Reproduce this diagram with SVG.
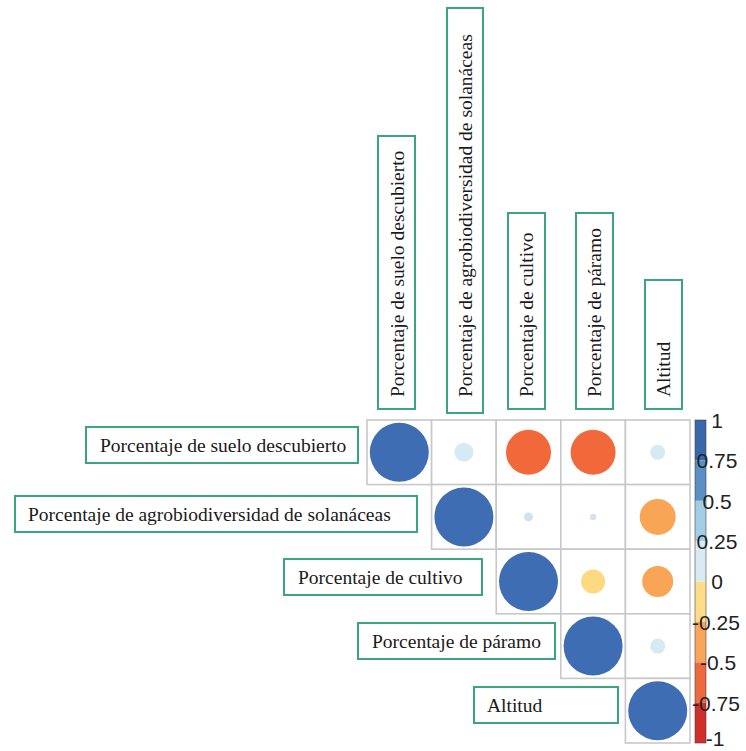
<svg xmlns="http://www.w3.org/2000/svg" width="746" height="751" viewBox="0 0 746 751">
  <style>
    .box { fill: #ffffff; stroke: #3aa57e; stroke-width: 2; }
    .lbl { font-family: "Liberation Serif", "Times New Roman", serif; font-size: 19.5px; fill: #1a1a1a; }
    .cell { fill: #ffffff; stroke: #c8c8c8; stroke-width: 1.6; }
    .tick { font-family: "Liberation Sans", Arial, sans-serif; font-size: 21px; fill: #222222; text-anchor: middle; }
    .pos1 { fill: #3e6db4; }
    .neg { fill: #f1693b; }
    .negm { fill: #f8a556; }
    .negs { fill: #fdda80; }
    .posl { fill: #d5eaf3; }
  </style>

  <!-- column header boxes (rotated labels) -->
  <g id="col-suelo">
    <rect class="box" x="378" y="136" width="37" height="273"/>
    <text class="lbl" transform="translate(404,397) rotate(-90)">Porcentaje de suelo descubierto</text>
  </g>
  <g id="col-agrobiodiversidad">
    <rect class="box" x="447" y="8" width="36" height="405"/>
    <text class="lbl" transform="translate(472,397) rotate(-90)">Porcentaje de agrobiodiversidad de solanáceas</text>
  </g>
  <g id="col-cultivo">
    <rect class="box" x="508" y="213" width="37" height="196"/>
    <text class="lbl" transform="translate(533,397) rotate(-90)">Porcentaje de cultivo</text>
  </g>
  <g id="col-paramo">
    <rect class="box" x="576" y="213" width="37" height="196"/>
    <text class="lbl" transform="translate(601,397) rotate(-90)">Porcentaje de páramo</text>
  </g>
  <g id="col-altitud">
    <rect class="box" x="645" y="280" width="37" height="129"/>
    <text class="lbl" transform="translate(670,397) rotate(-90)">Altitud</text>
  </g>

  <!-- row header boxes -->
  <g id="row-suelo">
    <rect class="box" x="86" y="427" width="272" height="36"/>
    <text class="lbl" x="100" y="452">Porcentaje de suelo descubierto</text>
  </g>
  <g id="row-agrobiodiversidad">
    <rect class="box" x="15" y="496" width="402" height="36"/>
    <text class="lbl" x="28" y="521">Porcentaje de agrobiodiversidad de solanáceas</text>
  </g>
  <g id="row-cultivo">
    <rect class="box" x="284" y="559" width="198" height="36"/>
    <text class="lbl" x="298" y="584">Porcentaje de cultivo</text>
  </g>
  <g id="row-paramo">
    <rect class="box" x="358" y="623" width="197" height="36"/>
    <text class="lbl" x="372" y="648">Porcentaje de páramo</text>
  </g>
  <g id="row-altitud">
    <rect class="box" x="474" y="687" width="144" height="36"/>
    <text class="lbl" x="487" y="712">Altitud</text>
  </g>

  <!-- upper-triangle grid cells -->
  <g id="grid">
    <rect class="cell" x="367" y="420" width="64.6" height="64.6"/>
    <rect class="cell" x="431.6" y="420" width="64.6" height="64.6"/>
    <rect class="cell" x="496.2" y="420" width="64.6" height="64.6"/>
    <rect class="cell" x="560.8" y="420" width="64.6" height="64.6"/>
    <rect class="cell" x="625.4" y="420" width="64.6" height="64.6"/>

    <rect class="cell" x="431.6" y="484.6" width="64.6" height="64.6"/>
    <rect class="cell" x="496.2" y="484.6" width="64.6" height="64.6"/>
    <rect class="cell" x="560.8" y="484.6" width="64.6" height="64.6"/>
    <rect class="cell" x="625.4" y="484.6" width="64.6" height="64.6"/>

    <rect class="cell" x="496.2" y="549.2" width="64.6" height="64.6"/>
    <rect class="cell" x="560.8" y="549.2" width="64.6" height="64.6"/>
    <rect class="cell" x="625.4" y="549.2" width="64.6" height="64.6"/>

    <rect class="cell" x="560.8" y="613.8" width="64.6" height="64.6"/>
    <rect class="cell" x="625.4" y="613.8" width="64.6" height="64.6"/>

    <rect class="cell" x="625.4" y="678.4" width="64.6" height="64.6"/>
  </g>

  <!-- correlation circles -->
  <g id="circles">
    <circle class="pos1" cx="399.3" cy="452.3" r="29.5"/>
    <circle class="posl" cx="463.9" cy="452.3" r="9.5"/>
    <circle class="neg" cx="528.5" cy="452.3" r="22.5"/>
    <circle class="neg" cx="593.1" cy="452.3" r="22.5"/>
    <circle class="posl" cx="657.7" cy="452.3" r="7.5"/>

    <circle class="pos1" cx="463.9" cy="516.9" r="29.5"/>
    <circle fill="#cfe3ea" cx="528.5" cy="516.9" r="4.5"/>
    <circle fill="#d6e1ef" cx="593.1" cy="516.9" r="3.2"/>
    <circle class="negm" cx="657.7" cy="516.9" r="18"/>

    <circle class="pos1" cx="528.5" cy="581.5" r="29.5"/>
    <circle class="negs" cx="593.1" cy="581.5" r="12"/>
    <circle class="negm" cx="657.7" cy="581.5" r="15.5"/>

    <circle class="pos1" cx="593.1" cy="646.1" r="29.5"/>
    <circle class="posl" cx="657.7" cy="646.1" r="7.5"/>

    <circle class="pos1" cx="657.7" cy="710.7" r="29.5"/>
  </g>

  <!-- colour legend -->
  <g id="colorbar">
    <rect x="695" y="420" width="11" height="40.4" fill="#3a66aa"/>
    <rect x="695" y="460.4" width="11" height="40.4" fill="#5b8fc5"/>
    <rect x="695" y="500.8" width="11" height="40.4" fill="#a3cde5"/>
    <rect x="695" y="541.2" width="11" height="40.4" fill="#d8ebf3"/>
    <rect x="695" y="581.6" width="11" height="40.4" fill="#fddd88"/>
    <rect x="695" y="622" width="11" height="40.4" fill="#f9a65a"/>
    <rect x="695" y="662.4" width="11" height="40.4" fill="#ee6a3e"/>
    <rect x="695" y="702.8" width="11" height="40.2" fill="#d0302a"/>
    <rect x="695" y="420" width="11" height="323" fill="none" stroke="#3a3a3a" stroke-opacity="0.55" stroke-width="1"/>

    <text class="tick" x="717" y="427.5">1</text>
    <text class="tick" x="717" y="468">0.75</text>
    <text class="tick" x="717" y="508.5">0.5</text>
    <text class="tick" x="717" y="549">0.25</text>
    <text class="tick" x="717" y="589">0</text>
    <text class="tick" x="716" y="629.5">-0.25</text>
    <text class="tick" x="718" y="670">-0.5</text>
    <text class="tick" x="716" y="710.5">-0.75</text>
    <text class="tick" x="715" y="746">-1</text>
  </g>
</svg>
